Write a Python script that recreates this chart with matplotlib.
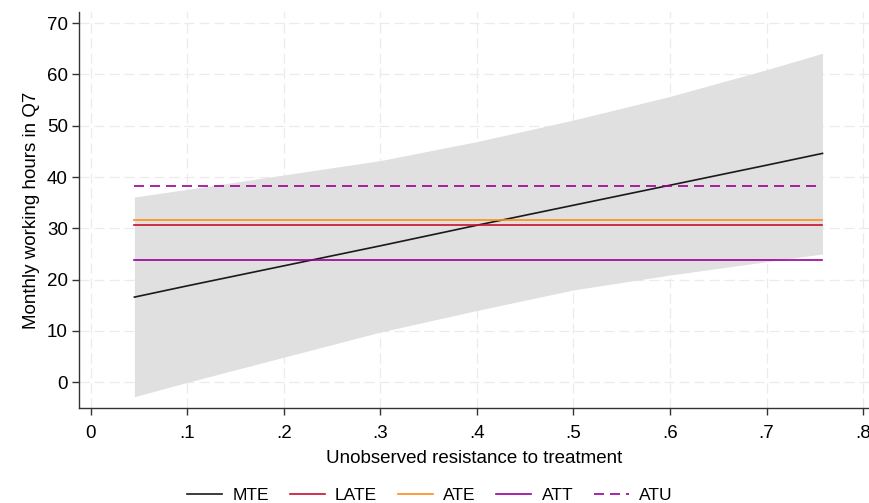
import numpy as np
import matplotlib.pyplot as plt

plt.rcParams['font.family'] = ['Liberation Sans', 'DejaVu Sans']

# propensity grid and marginal treatment effect with its 95% band
u = [0.045, 0.1, 0.2, 0.3, 0.4, 0.5, 0.6, 0.7, 0.758]
mte = [16.6, 18.8, 22.7, 26.6, 30.6, 34.5, 38.4, 42.3, 44.6]
ci_hi = [36.1, 37.6, 40.4, 43.2, 46.9, 51.1, 55.7, 60.9, 64.1]
ci_lo = [-2.8, 0.0, 4.9, 9.8, 14.0, 18.0, 20.9, 23.5, 25.0]

# summary treatment parameters
late = 30.6
ate = 31.6
att = 23.8
atu = 38.3

xticks = [0, 0.1, 0.2, 0.3, 0.4, 0.5, 0.6, 0.7, 0.8]
xticklabels = ['0', '.1', '.2', '.3', '.4', '.5', '.6', '.7', '.8']
yticks = [0, 10, 20, 30, 40, 50, 60, 70]

c_mte = '#1a1a1a'
c_late = '#c8102e'
c_ate = '#ff8c1a'
c_att = '#990099'
fs = 13.5

fig = plt.figure(figsize=(8.69, 5.03), dpi=100)
ax = fig.add_axes([0.0909, 0.1889, 0.9091, 0.7878])

ax.fill_between(u, ci_lo, ci_hi, color='#e0e0e0', lw=0, zorder=1)
ax.plot(u, mte, color=c_mte, lw=1.2, label='MTE', zorder=3)
ax.plot([u[0], u[-1]], [late, late], color=c_late, lw=1.2, label='LATE', zorder=3)
ax.plot([u[0], u[-1]], [ate, ate], color=c_ate, lw=1.2, label='ATE', zorder=3)
ax.plot([u[0], u[-1]], [att, att], color=c_att, lw=1.2, label='ATT', zorder=3)
ax.plot([u[0], u[-1]], [atu, atu], color=c_att, lw=1.2, ls=(0, (6, 3.6)),
        label='ATU', zorder=3)

ax.set_xlim(-0.0124, 0.8062)
ax.set_ylim(-5.0, 72.2)
ax.set_xticks(xticks)
ax.set_xticklabels(xticklabels)
ax.set_yticks(yticks)

ax.grid(True, color='#ebebeb', lw=0.9, ls=(0, (8, 4)), zorder=0)
ax.set_axisbelow(True)

for s in ['top', 'right']:
    ax.spines[s].set_visible(False)
for s in ['left', 'bottom']:
    ax.spines[s].set_color('#333333')
    ax.spines[s].set_linewidth(1.0)

ax.tick_params(axis='both', colors='#333333', labelcolor='black',
               length=5, width=1.0, labelsize=fs, pad=3)
ax.tick_params(axis='x', pad=7)

ax.set_xlabel('Unobserved resistance to treatment', fontsize=fs, labelpad=6)
ax.set_ylabel('Monthly working hours in Q7', fontsize=fs, labelpad=5)

fig.legend(loc='lower center', bbox_to_anchor=(0.495, -0.031), ncol=5,
           frameon=False, fontsize=12.5, handlelength=2.0, handletextpad=0.6,
           columnspacing=1.2)

fig.savefig('out.png', dpi=100)
